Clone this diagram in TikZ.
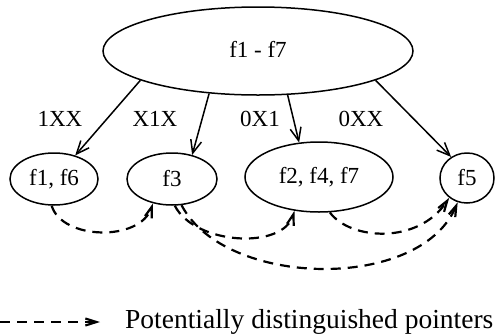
\documentclass[tikz,border=0pt]{standalone}
\usepackage{fontspec}
\setmainfont{Liberation Serif}
\usetikzlibrary{shapes.geometric,arrows.meta}

\tikzset{
  setnode/.style={draw, ellipse, line width=1.5pt, inner sep=0pt,
    font=\fontsize{23}{27}\selectfont},
  edgelabel/.style={anchor=base, inner sep=0pt,
    font=\fontsize{23}{27}\selectfont},
  branch/.style={line width=1.5pt, -{Straight Barb[length=13pt,width=11pt,line width=1.5pt]}},
  pointer/.style={line width=2.2pt, dash pattern=on 10pt off 7pt,
    -{Straight Barb[length=11pt,width=7pt,line width=2.2pt]}},
}

\begin{document}
\begin{tikzpicture}[x=1pt,y=-1pt]
  \useasboundingbox (0,0) rectangle (496,333);

  % partition tree
  \node[setnode, minimum width=310pt, minimum height=88pt, text depth=3pt] (all) at (258,51) {f1 - f7};
  \node[setnode, minimum width=88pt,  minimum height=52pt] (a) at (54,179)  {f1, f6};
  \node[setnode, minimum width=90pt,  minimum height=52pt] (b) at (172,179) {f3};
  \node[setnode, minimum width=148pt, minimum height=70pt] (c) at (319,177) {f2, f4, f7};
  \node[setnode, minimum width=54pt,  minimum height=50pt] (d) at (467,178) {f5};

  \draw[branch] (all.194) -- (a.48);
  \draw[branch] (all.221) -- (b.50);
  \draw[branch] (all.304) -- (c.120);
  \draw[branch] (all.346) -- (d.127);

  \node[edgelabel] (l1) at (60,126)  {1XX};
  \node[edgelabel] (l2) at (155,126) {X1X};
  \node[edgelabel] (l3) at (260,126) {0X1};
  \node[edgelabel] (l4) at (361,126) {0XX};

  % distinguished pointers
  \draw[pointer] (a.265) .. controls (62,240) and (140,242) .. (b.232);
  \draw[pointer] (b.276) .. controls (195,245) and (283,250) .. (c.234);
  \draw[pointer] (b.290) .. controls (225,288) and (420,292) .. (d.249);
  \draw[pointer] (c.287) .. controls (350,240) and (418,245) .. (d.228);

  % legend
  \coordinate (k0) at (0,322);
  \coordinate (k1) at (100,322);
  \draw[pointer] (k0) -- (k1);
  \node[anchor=base west, inner sep=0pt, font=\fontsize{27.5}{33}\selectfont]
    (key) at (125,328) {Potentially distinguished pointers};
\end{tikzpicture}
\end{document}
